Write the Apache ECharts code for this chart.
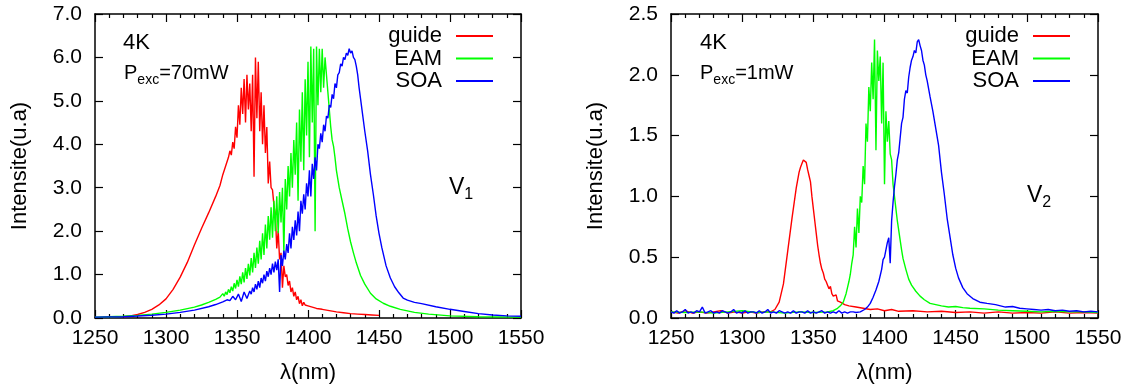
<!DOCTYPE html>
<html>
<head>
<meta charset="utf-8">
<script src="https://cdn.jsdelivr.net/npm/echarts@6/dist/echarts.min.js"></script>
<style>
html,body{margin:0;padding:0;background:#fff}
#main{width:1133px;height:389px}
</style>
</head>
<body>
<div id="main"></div>
<script>
// spectres PL a 4K: [lambda (nm), intensite (u.a)]
var names = ['guide', 'EAM', 'SOA'];
var colors = ['#ff0000', '#00ff00', '#0000ff'];

// ---- V1, Pexc = 70mW ----
var guideV1 = [[1270,0.03],[1275,0.05],[1280,0.08],[1285,0.13],[1290,0.2],[1295,0.3],[1300,0.44],[1305,0.66],[1310,0.94],[1315,1.28],[1320,1.68],[1325,2.06],[1330,2.42],[1335,2.8],[1338,3.05],[1340,3.3],[1342,3.5],[1344,3.7],[1345,3.85],[1346,3.75],[1347,4.05],[1348,3.9],[1349,4.4],[1350,4.15],[1351,4.9],[1352,4.45],[1353,5.3],[1354,4.7],[1355,5.5],[1356,4.5],[1357,5.6],[1358,4.8],[1359,5.4],[1360,4.3],[1361,5.6],[1362,3.25],[1363,6.0],[1364,4.6],[1365,5.9],[1366,4.3],[1367,5.2],[1368,4.0],[1369,4.9],[1370,3.8],[1371,4.4],[1372,3.1],[1373,3.6],[1374,3.0],[1375,2.95],[1376,2.6],[1377,2.4],[1378,1.6],[1379,2.0],[1380,1.35],[1381,1.5],[1382,0.7],[1383,1.2],[1384,0.95],[1385,1.0],[1386,0.75],[1387,0.85],[1388,0.6],[1389,0.7],[1390,0.5],[1391,0.6],[1392,0.42],[1393,0.5],[1394,0.33],[1395,0.42],[1396,0.28],[1397,0.36],[1398,0.3],[1400,0.28],[1403,0.25],[1406,0.22],[1410,0.2],[1415,0.17],[1420,0.14],[1425,0.12],[1430,0.1],[1435,0.09],[1440,0.08],[1445,0.07],[1450,0.06]];

var eamV1 = [[1250,0.02],[1260,0.03],[1270,0.04],[1280,0.06],[1290,0.09],[1300,0.13],[1310,0.18],[1320,0.25],[1325,0.3],[1330,0.36],[1335,0.43],[1338,0.48],[1339,0.5],[1340,0.56],[1341,0.5],[1342,0.6],[1343,0.54],[1344,0.66],[1345,0.58],[1346,0.72],[1347,0.62],[1348,0.8],[1349,0.68],[1350,0.88],[1351,0.72],[1352,0.96],[1353,0.78],[1354,1.05],[1355,0.82],[1356,1.15],[1357,0.9],[1358,1.25],[1359,0.98],[1360,1.38],[1361,1.05],[1362,1.5],[1363,1.15],[1364,1.62],[1365,1.25],[1366,1.78],[1367,1.35],[1368,1.95],[1369,1.45],[1370,2.15],[1371,1.6],[1372,2.35],[1373,1.8],[1374,2.55],[1375,1.85],[1376,2.7],[1377,2.0],[1378,2.8],[1379,1.95],[1380,2.9],[1381,2.2],[1382,3.0],[1383,1.5],[1384,3.2],[1385,2.5],[1386,3.5],[1387,2.8],[1388,3.8],[1389,3.0],[1390,4.1],[1391,3.3],[1392,4.5],[1393,2.7],[1394,4.8],[1395,3.6],[1396,5.2],[1397,3.4],[1398,5.5],[1399,4.2],[1400,5.9],[1401,3.7],[1402,6.25],[1403,4.5],[1404,6.2],[1405,2.0],[1406,6.25],[1407,4.9],[1408,6.2],[1409,5.2],[1410,6.2],[1411,5.3],[1412,6.0],[1413,5.6],[1414,5.2],[1415,4.8],[1416,4.4],[1417,4.1],[1418,3.95],[1419,3.7],[1420,3.4],[1422,3.0],[1424,2.7],[1426,2.4],[1428,2.05],[1430,1.75],[1432,1.5],[1434,1.27],[1437,0.98],[1440,0.78],[1444,0.57],[1448,0.44],[1453,0.34],[1458,0.27],[1465,0.2],[1475,0.13],[1485,0.09],[1500,0.05],[1520,0.03],[1550,0.02]];

var soaV1 = [[1250,0.02],[1260,0.025],[1270,0.03],[1280,0.045],[1290,0.065],[1300,0.09],[1310,0.13],[1320,0.18],[1330,0.26],[1335,0.31],[1340,0.37],[1343,0.42],[1345,0.4],[1347,0.5],[1349,0.42],[1351,0.55],[1353,0.38],[1355,0.6],[1357,0.45],[1359,0.62],[1360,0.55],[1361,0.7],[1362,0.6],[1363,0.78],[1364,0.66],[1365,0.85],[1366,0.7],[1367,0.92],[1368,0.8],[1369,1.0],[1370,0.85],[1371,1.08],[1372,0.95],[1373,1.15],[1374,1.0],[1375,1.25],[1376,1.05],[1377,1.3],[1378,1.1],[1379,1.35],[1380,0.6],[1381,1.45],[1382,1.2],[1383,1.55],[1384,1.35],[1385,1.7],[1386,1.5],[1387,1.95],[1388,1.6],[1389,2.1],[1390,1.8],[1391,2.25],[1392,1.9],[1393,2.45],[1394,2.0],[1395,2.7],[1396,2.4],[1397,2.85],[1398,2.5],[1399,3.1],[1400,2.8],[1401,3.4],[1402,2.8],[1403,3.55],[1404,3.2],[1405,3.7],[1406,3.4],[1407,4.0],[1408,3.9],[1409,4.25],[1410,4.05],[1411,4.45],[1412,4.3],[1413,4.65],[1414,4.6],[1415,4.9],[1416,4.85],[1417,5.15],[1418,5.05],[1419,5.4],[1420,5.3],[1421,5.6],[1422,5.65],[1423,5.85],[1424,5.8],[1425,6.0],[1426,5.95],[1427,6.1],[1428,6.05],[1429,6.2],[1430,6.1],[1431,6.15],[1432,6.0],[1433,5.95],[1434,5.8],[1435,5.6],[1436,5.3],[1437,5.05],[1438,4.8],[1440,4.3],[1442,3.85],[1444,3.3],[1446,2.85],[1448,2.35],[1450,1.95],[1452,1.62],[1455,1.2],[1458,0.92],[1461,0.72],[1464,0.58],[1467,0.46],[1470,0.41],[1475,0.36],[1480,0.33],[1490,0.26],[1500,0.2],[1510,0.15],[1520,0.1],[1530,0.07],[1540,0.05],[1550,0.04]];

// ---- V2, Pexc = 1mW ----
var guideV2 = [[1250,0.05],[1255,0.04],[1260,0.06],[1265,0.04],[1270,0.05],[1275,0.04],[1280,0.05],[1285,0.06],[1290,0.04],[1295,0.05],[1300,0.04],[1305,0.05],[1310,0.04],[1315,0.05],[1320,0.05],[1323,0.07],[1326,0.13],[1329,0.28],[1332,0.55],[1335,0.82],[1338,1.07],[1340,1.2],[1341,1.24],[1342,1.27],[1343,1.3],[1344,1.31],[1345,1.28],[1346,1.22],[1347,1.17],[1348,1.12],[1349,1.0],[1350,0.9],[1351,0.8],[1352,0.7],[1353,0.6],[1354,0.52],[1355,0.45],[1356,0.4],[1357,0.37],[1358,0.32],[1359,0.3],[1360,0.27],[1361,0.24],[1362,0.26],[1363,0.2],[1364,0.18],[1365,0.17],[1366,0.19],[1367,0.14],[1369,0.13],[1372,0.11],[1375,0.1],[1380,0.09],[1385,0.08],[1390,0.07],[1395,0.075],[1400,0.06],[1405,0.07],[1410,0.055],[1420,0.06],[1430,0.05],[1440,0.055],[1450,0.045],[1460,0.05],[1470,0.04],[1480,0.05],[1490,0.04],[1500,0.045],[1510,0.04],[1520,0.05],[1530,0.04],[1540,0.045],[1550,0.04]];

var eamV2 = [[1250,0.05],[1260,0.045],[1270,0.05],[1280,0.04],[1290,0.05],[1300,0.06],[1310,0.045],[1320,0.05],[1330,0.04],[1340,0.05],[1350,0.045],[1360,0.05],[1364,0.06],[1367,0.08],[1369,0.1],[1371,0.13],[1373,0.2],[1374,0.25],[1375,0.3],[1376,0.36],[1377,0.45],[1378,0.52],[1379,0.75],[1380,0.58],[1381,0.9],[1382,0.7],[1383,1.0],[1384,0.95],[1385,1.25],[1386,1.1],[1387,1.6],[1388,1.45],[1389,1.9],[1390,1.7],[1391,2.1],[1392,1.8],[1393,2.29],[1394,1.38],[1395,2.2],[1396,1.95],[1397,2.15],[1398,1.6],[1399,2.1],[1400,1.1],[1401,1.7],[1402,1.45],[1403,1.62],[1404,1.35],[1405,1.3],[1406,1.1],[1407,1.0],[1408,0.9],[1409,0.8],[1410,0.72],[1411,0.64],[1412,0.56],[1413,0.49],[1415,0.4],[1417,0.32],[1419,0.27],[1422,0.22],[1425,0.18],[1428,0.15],[1432,0.12],[1436,0.11],[1440,0.1],[1445,0.09],[1450,0.095],[1455,0.085],[1460,0.08],[1470,0.075],[1480,0.065],[1490,0.06],[1500,0.055],[1510,0.05],[1520,0.055],[1530,0.05],[1540,0.05],[1550,0.045]];

var soaV2 = [[1250,0.05],[1252,0.04],[1254,0.06],[1256,0.04],[1258,0.05],[1260,0.07],[1262,0.04],[1264,0.05],[1266,0.04],[1268,0.06],[1270,0.05],[1272,0.09],[1274,0.04],[1276,0.05],[1278,0.06],[1280,0.04],[1282,0.05],[1284,0.04],[1286,0.06],[1288,0.05],[1290,0.04],[1292,0.05],[1294,0.07],[1296,0.04],[1298,0.05],[1300,0.04],[1302,0.06],[1304,0.04],[1306,0.05],[1308,0.05],[1310,0.04],[1312,0.06],[1314,0.04],[1316,0.05],[1318,0.07],[1320,0.04],[1322,0.05],[1324,0.04],[1326,0.06],[1328,0.05],[1330,0.04],[1332,0.05],[1334,0.04],[1336,0.06],[1338,0.04],[1340,0.05],[1342,0.05],[1344,0.04],[1346,0.06],[1348,0.04],[1350,0.05],[1352,0.04],[1354,0.05],[1356,0.06],[1358,0.04],[1360,0.05],[1362,0.04],[1364,0.05],[1366,0.04],[1368,0.06],[1370,0.04],[1372,0.05],[1374,0.04],[1376,0.05],[1378,0.05],[1380,0.045],[1383,0.05],[1386,0.07],[1388,0.09],[1390,0.12],[1392,0.17],[1394,0.23],[1396,0.3],[1398,0.4],[1399,0.48],[1400,0.5],[1401,0.56],[1402,0.62],[1403,0.66],[1404,0.45],[1405,0.8],[1406,0.95],[1407,1.08],[1408,1.18],[1409,1.3],[1410,1.36],[1411,1.48],[1412,1.6],[1413,1.65],[1414,1.8],[1415,1.87],[1416,1.85],[1417,1.98],[1418,2.06],[1419,2.12],[1420,2.15],[1421,2.2],[1422,2.18],[1423,2.27],[1424,2.29],[1425,2.24],[1426,2.2],[1427,2.12],[1428,2.08],[1429,2.0],[1430,1.95],[1432,1.82],[1434,1.7],[1436,1.56],[1438,1.42],[1440,1.2],[1442,1.02],[1444,0.82],[1446,0.67],[1448,0.52],[1450,0.41],[1452,0.33],[1455,0.25],[1458,0.2],[1462,0.16],[1467,0.13],[1472,0.12],[1478,0.11],[1485,0.09],[1490,0.095],[1495,0.08],[1500,0.075],[1505,0.07],[1510,0.065],[1515,0.07],[1520,0.06],[1525,0.065],[1530,0.055],[1535,0.06],[1540,0.05],[1545,0.055],[1550,0.05]];

var yMaxV1 = 7, yStepV1 = 1;
var yMaxV2 = 2.5, yStepV2 = 0.5;

var font = 'Liberation Sans, Arial, Helvetica, sans-serif';

function xAxis(grid, pos) {
  return {
    type: 'value', gridIndex: grid, position: pos,
    min: 1250, max: 1550, interval: 50,
    axisLine: {show: true, onZero: false, lineStyle: {color: '#000', width: 1.5}},
    axisTick: {show: true, inside: true, length: 8, lineStyle: {color: '#000', width: 1.2}},
    minorTick: {show: true, splitNumber: 5, length: 4, lineStyle: {color: '#000', width: 1.2}},
    axisLabel: {show: pos === 'bottom', margin: 10, color: '#000', fontSize: 21, fontFamily: font,
      formatter: function (v) { return String(v); }},
    splitLine: {show: false},
    name: pos === 'bottom' ? 'λ(nm)' : '',
    nameLocation: 'middle', nameGap: 44,
    nameTextStyle: {color: '#000', fontSize: 22, fontFamily: font}
  };
}

function yAxis(grid, pos, max, step) {
  return {
    type: 'value', gridIndex: grid, position: pos,
    min: 0, max: max, interval: step,
    axisLine: {show: true, onZero: false, lineStyle: {color: '#000', width: 1.5}},
    axisTick: {show: true, inside: true, length: 8, lineStyle: {color: '#000', width: 1.2}},
    axisLabel: {show: pos === 'left', margin: 13, color: '#000', fontSize: 21, fontFamily: font,
      formatter: function (v) { return v.toFixed(1); }},
    splitLine: {show: false},
    name: pos === 'left' ? 'Intensite(u.a)' : '',
    nameLocation: 'middle', nameGap: 64,
    nameTextStyle: {color: '#000', fontSize: 22, fontFamily: font}
  };
}

// axes 0,1 = bas/gauche du panneau 0 et 1 ; 2,3 = miroirs haut/droite
function line(name, idx, data, grid) {
  return {
    name: name, type: 'line', data: data,
    xAxisIndex: grid, yAxisIndex: grid,
    showSymbol: false, symbol: 'none', sampling: null,
    lineStyle: {color: colors[idx], width: 1.4},
    itemStyle: {color: colors[idx]}
  };
}

function legend(right) {
  return {
    data: names, orient: 'vertical', align: 'right',
    right: right, top: 20, icon: 'rect', itemWidth: 37, itemHeight: 2, itemGap: 0.5,
    selectedMode: false,
    textStyle: {color: '#000', fontSize: 22, fontFamily: font, lineHeight: 22, padding: [0, 9, 0, 0]}
  };
}

function label(txt, sub, left, top, size, subSize) {
  return {
    type: 'text', left: left, top: top,
    style: {
      text: '{a|' + txt + '}' + (sub ? '{b|' + sub[0] + '}{a|' + sub[1] + '}' : ''),
      rich: {
        a: {fontSize: size, fontFamily: font, fill: '#000', lineHeight: size + 4, verticalAlign: 'top'},
        b: {fontSize: subSize, fontFamily: font, fill: '#000', lineHeight: subSize, verticalAlign: 'bottom'}
      }
    }
  };
}

var chart = echarts.init(document.getElementById('main'));
var option = {
  animation: false,
  grid: [
    {left: 95, top: 14, width: 426, height: 304},
    {left: 671, top: 14, width: 427, height: 304}
  ],
  xAxis: [xAxis(0, 'bottom'), xAxis(1, 'bottom'), xAxis(0, 'top'), xAxis(1, 'top')],
  yAxis: [yAxis(0, 'left', yMaxV1, yStepV1), yAxis(1, 'left', yMaxV2, yStepV2),
          yAxis(0, 'right', yMaxV1, yStepV1), yAxis(1, 'right', yMaxV2, yStepV2)],
  legend: [legend(1133 - 498), legend(1133 - 1075)],
  graphic: [
    label('4K', null, 123, 32, 22, 14),
    label('P', ['exc', '=70mW'], 124, 63, 20, 14),
    label('V', ['1', ''], 449, 176, 23, 16),
    label('4K', null, 700, 32, 22, 14),
    label('P', ['exc', '=1mW'], 700, 63, 20, 14),
    label('V', ['2', ''], 1027, 184, 23, 16)
  ],
  series: [
    line('guide', 0, guideV1, 0),
    line('EAM', 1, eamV1, 0),
    line('SOA', 2, soaV1, 0),
    line('guide', 0, guideV2, 1),
    line('EAM', 1, eamV2, 1),
    line('SOA', 2, soaV2, 1)
  ]
};
chart.setOption(option);
</script>
</body>
</html>
